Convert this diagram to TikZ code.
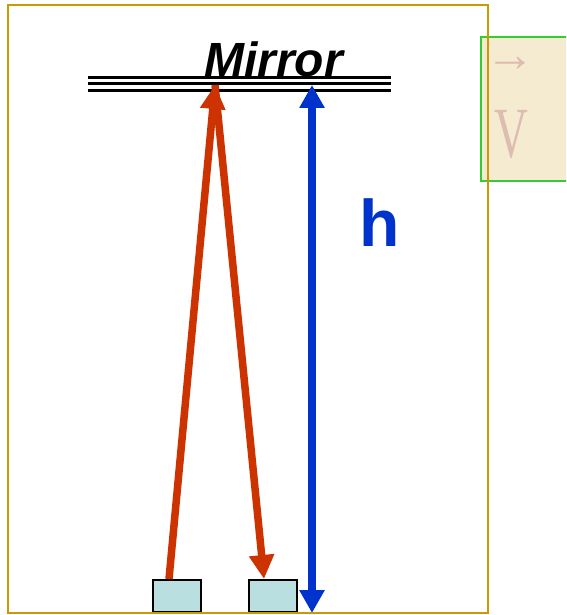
\documentclass[tikz,border=0pt]{standalone}
\usepackage{fontspec}
\setmainfont{Liberation Serif}
\setsansfont{Liberation Sans}
\usetikzlibrary{arrows.meta}
\definecolor{frameor}{HTML}{CC9900}
\definecolor{redarr}{HTML}{CC3300}
\definecolor{bluearr}{HTML}{0033CC}
\definecolor{boxfill}{HTML}{B9DFE1}
\definecolor{panelfill}{HTML}{F5EBD0}
\definecolor{panelline}{HTML}{33CC33}
\definecolor{vtext}{HTML}{DDBCB2}
\tikzset{
  sensor/.style={draw=black, line width=2pt, fill=boxfill, minimum width=48pt, minimum height=32pt, inner sep=0pt, anchor=south west},
  beam/.style={draw=redarr, line width=7.5pt, -{Triangle[width=24pt,length=24pt]}},
  height/.style={draw=bluearr, line width=7.5pt, {Triangle[width=24pt,length=23pt]}-{Triangle[width=24pt,length=23pt]}},
  mirrorline/.style={line width=3pt, draw=black},
}
\begin{document}
\begin{tikzpicture}[x=1pt,y=-1pt]
\useasboundingbox (0,0) rectangle (566,615);
\clip (0,0) rectangle (566,615);
% velocity panel
\draw[draw=panelline, line width=2pt, fill=panelfill] (481,37) rectangle (580,181);
\node[text=vtext, font=\bfseries\fontsize{50}{50}\selectfont, inner sep=0pt] (varrow) at (510,64) {→};
\node[text=vtext, font=\fontsize{72}{72}\selectfont, inner sep=0pt, anchor=base, xscale=0.65] (vlabel) at (511.5,157) {V};
% mirror
\draw[mirrorline] (88,77.5) -- (391,77.5);
\draw[mirrorline] (88,84) -- (391,84);
\draw[mirrorline] (88,90.5) -- (391,90.5);
\node[font=\sffamily\bfseries\itshape\fontsize{48}{48}\selectfont, anchor=base, inner sep=0pt] (mirror) at (273.5,77) {Mirror};
\coordinate (reflect) at (215,85);
\coordinate (mtop) at (312,85);
\coordinate (floor) at (312,613);
% sensors
\node[sensor] (src) at (152,613) {};
\node[sensor] (det) at (248,613) {};
% beams
\draw[beam] ([xshift=-8pt]src.north) -- (reflect);
\draw[beam] (reflect) -- ([xshift=-9pt]det.north);
\draw[height] (mtop) -- (floor);
\node[text=bluearr, font=\sffamily\bfseries\fontsize{66}{66}\selectfont, anchor=base, inner sep=0pt] (hlabel) at (379.5,246) {h};
% frame
\draw[draw=frameor, line width=2pt] (8,5) rectangle (488,613);
\end{tikzpicture}
\end{document}
